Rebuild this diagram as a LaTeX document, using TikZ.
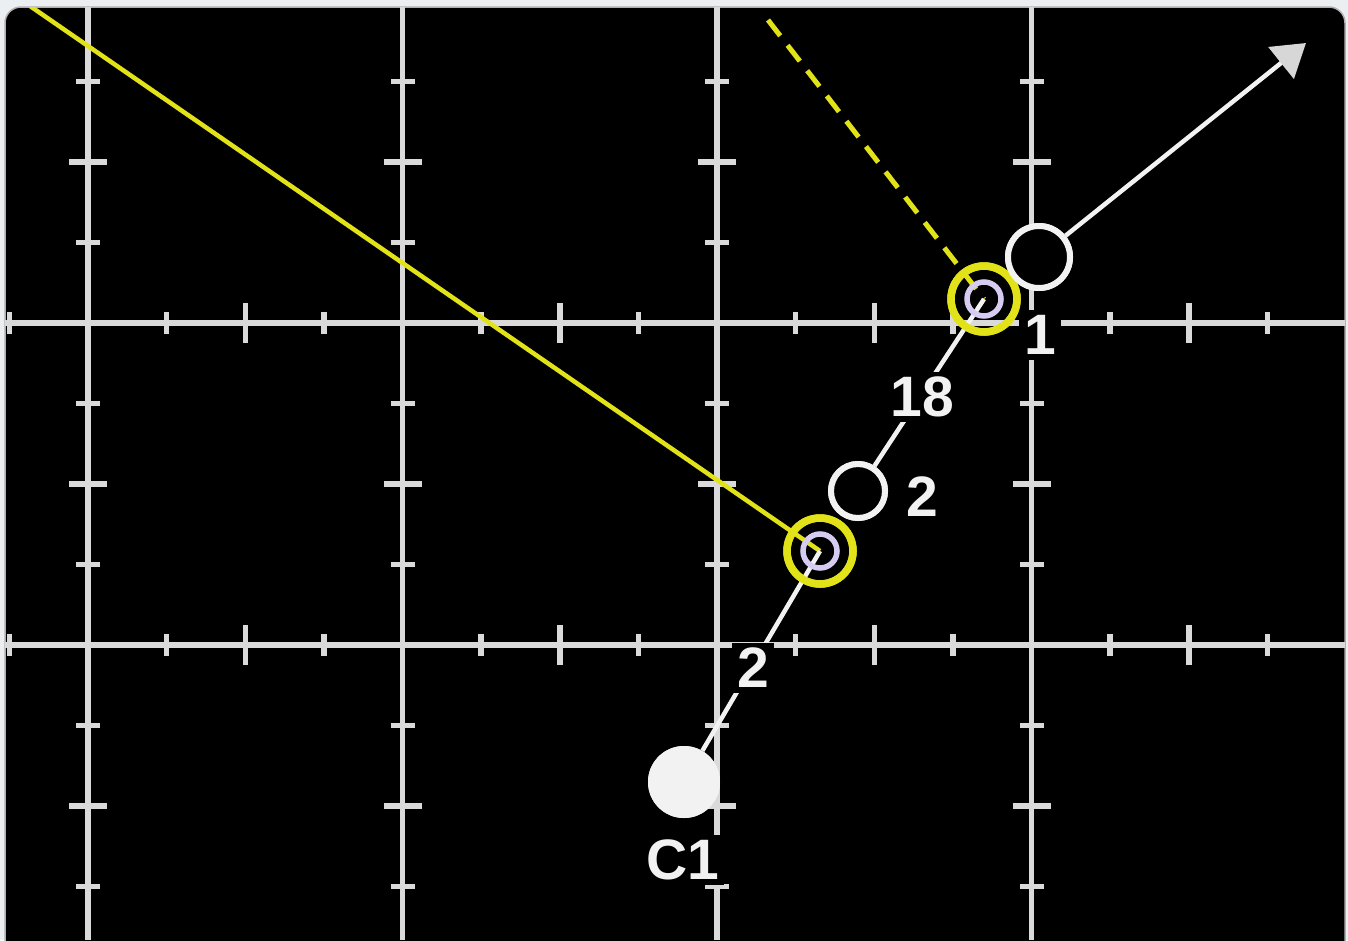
\documentclass[tikz,border=0pt]{standalone}
\usepackage{fontspec}
\setmainfont{Liberation Sans}
\usetikzlibrary{arrows.meta}
\definecolor{gridc}{RGB}{218,218,218}
\definecolor{yel}{RGB}{226,226,24}
\definecolor{lav}{RGB}{214,204,242}
\definecolor{outerc}{RGB}{236,239,242}
\definecolor{edgec}{RGB}{175,175,175}
\definecolor{txt}{RGB}{242,242,242}
\definecolor{headc}{RGB}{215,215,215}
\begin{document}
\begin{tikzpicture}[x=1pt,y=-1pt,
  gridline/.style={draw=gridc,line width=5.5pt},
  wline/.style={draw=txt,line width=4.5pt},
  opencirc/.style={circle,draw=txt,fill=black,line width=6pt,inner sep=0pt},
  solidcirc/.style={circle,fill=txt,inner sep=0pt,minimum size=72pt},
  ringout/.style={circle,draw=yel,line width=7.5pt,inner sep=0pt,minimum size=66pt},
  ringin/.style={circle,draw=lav,line width=5.5pt,inner sep=0pt,minimum size=34pt},
  lab/.style={fill=black,text=txt,inner sep=5pt,font=\fontsize{57}{60}\selectfont\bfseries}]
\useasboundingbox (0,0) rectangle (1348,940);
\fill[outerc] (0,0) rectangle (1348,940);
\fill[black,draw=edgec,line width=1.5pt,rounded corners=16pt] (5,7) rectangle (1345,980);
\begin{scope}
\clip[rounded corners=16pt] (5,7) rectangle (1345,980);
% grid lines
\foreach \xx in {88,402.5,717,1031.5} \draw[gridline] (\xx,0) -- (\xx,940);
\foreach \yy in {323,645} \draw[gridline] (0,\yy) -- (1348,\yy);
% ticks on vertical lines
\foreach \xx in {88,402.5,717,1031.5}{
  \foreach \yy in {81.5,242.5,403.5,564.5,725.5,886.5} \draw[gridline] (\xx-12,\yy) -- (\xx+12,\yy);
  \foreach \yy in {162,484,806} \draw[gridline] (\xx-19,\yy) -- (\xx+19,\yy);
}
% ticks on horizontal lines
\foreach \yy in {323,645}{
  \foreach \xx in {9.4,166.6,323.9,481.1,638.4,795.6,952.9,1110.1,1267.4} \draw[gridline] (\xx,\yy-11) -- (\xx,\yy+11);
  \foreach \xx in {245.25,559.75,874.25,1188.75} \draw[gridline] (\xx,\yy-20) -- (\xx,\yy+20);
}
% nodes
\coordinate (ys) at (30,6);
\coordinate (ds) at (768,20);
\coordinate (tip) at (1306,43);
\node[ringout] (rA) at (820,551) {};
\node[ringout] (rB) at (984,299) {};
\node[opencirc,minimum size=62pt] (n1) at (1039,257) {};
\node[opencirc,minimum size=54pt] (n2) at (858,491) {};
\node[solidcirc] (c1) at (684,782) {};
% yellow lines
\draw[yel,line width=4.5pt] (ys) -- (rA.center);
\draw[yel,line width=5pt,dash pattern=on 20pt off 12pt] (ds) -- (rB.center);
% white connectors
\draw[wline] (c1) -- (rA.center);
\draw[wline] (rB.center) -- (n2);
\draw[wline,-{Triangle[length=32pt,width=40pt,color=headc]}] (n1) -- (tip);
% labels
\node[lab] (l2a) at (753,668) {2};
\node[lab] (l18) at (922,397) {18};
\node[lab] (l2b) at (922,497) {2};
\node[lab] (l1) at (1040,335) {1};
\node[lab] (lc1) at (683,860) {C1};
% circles on top
\node[ringout] at (rA) {};
\node[ringin] (iA) at (rA) {};
\node[ringout] at (rB) {};
\node[ringin] (iB) at (rB) {};
\node[opencirc,minimum size=62pt] at (n1) {};
\node[opencirc,minimum size=54pt] at (n2) {};
\node[solidcirc] at (c1) {};
\end{scope}
\end{tikzpicture}
\end{document}
